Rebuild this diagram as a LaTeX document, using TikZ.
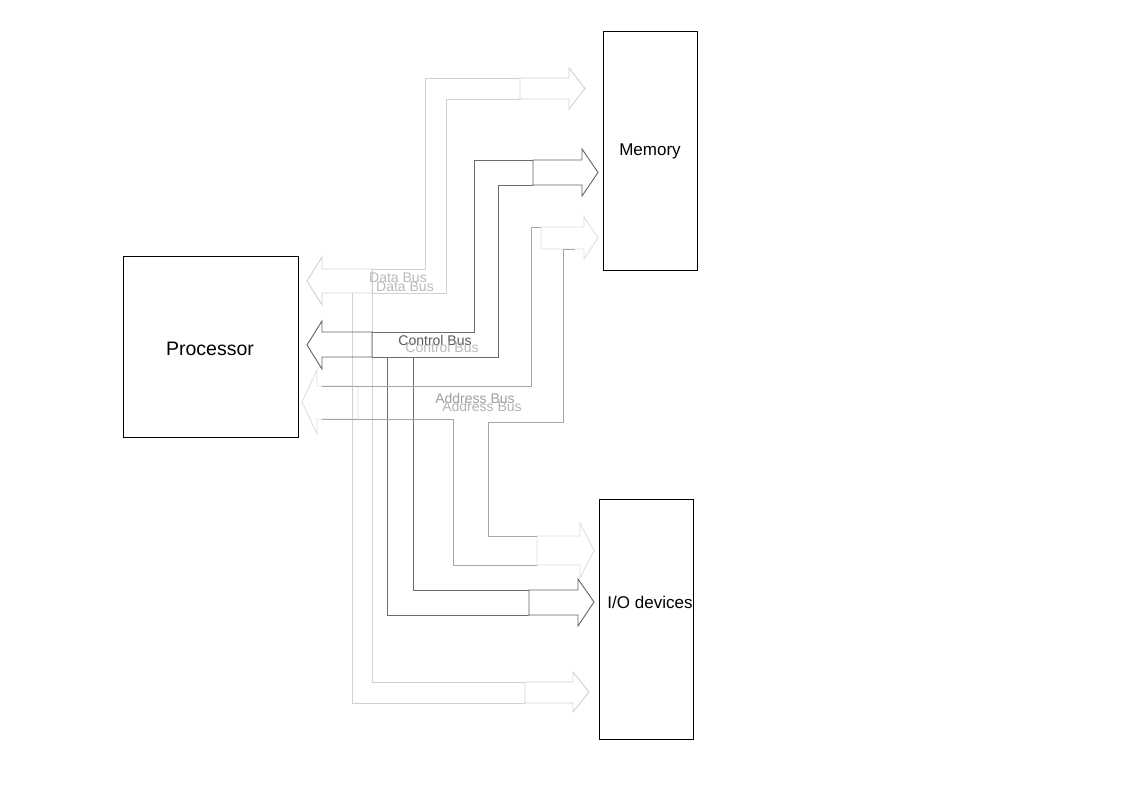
\documentclass[tikz,border=0pt]{standalone}
\usepackage{fontspec}
\setmainfont{Liberation Sans}
\begin{document}
\begin{tikzpicture}[x=1pt,y=-1pt,
  box/.style={draw=black,line width=0.9pt,inner sep=0pt},
  dataarrow/.style={draw=black!18,line width=0.9pt},
  dataline/.style={draw=black!18,line width=0.9pt},
  ctrlarrow/.style={draw=black!62,line width=0.9pt},
  ctrlline/.style={draw=black!58,line width=0.9pt},
  addrarrow/.style={draw=black!13,line width=0.9pt},
  addrline/.style={draw=black!35,line width=0.9pt},
  buslabel/.style={font=\fontsize{14}{16}\selectfont,inner sep=0pt},
  boxlabel/.style={font=\fontsize{17}{20}\selectfont,inner sep=0pt}]
\useasboundingbox (0,0) rectangle (1123,794);

% boxes
\node[box,minimum width=175pt,minimum height=181pt] (proc) at (210.5,346.5) {};
\node[boxlabel,font=\fontsize{19.5}{22}\selectfont] (proclabel) at (210,349) {Processor};
\node[box,minimum width=94pt,minimum height=239pt] (mem) at (650,150.5) {};
\node[boxlabel] (memlabel) at (650,151) {Memory};
\node[box,minimum width=94pt,minimum height=240pt] (io) at (646,619) {};
\node[boxlabel] (iolabel) at (650,602) {I/O devices};

% ---------- Data bus ----------
\draw[dataarrow] (372,269) coordinate (dLt) -- (322,269) -- (322,257) -- (307,281) -- (322,305) -- (322,293) -- (372,293) coordinate (dLb) -- cycle;
\draw[dataarrow] (520,78) coordinate (dMt) -- (569,78) -- (569,68) -- (585,88.5) -- (569,109) -- (569,99) -- (520,99) coordinate (dMb) -- cycle;
\draw[dataarrow] (525,682) coordinate (dIt) -- (573,682) -- (573,672) -- (589,692) -- (573,712) -- (573,703) -- (525,703) coordinate (dIb) -- cycle;
\draw[dataline] (dLt) -| (425,78) -- (dMt);
\draw[dataline] (dLb) -| (446,99) -- (dMb);
\draw[dataline] (dLt) -- (372,682) -- (dIt);
\coordinate (dLb2) at (352,293);
\draw[dataline] (dLb2) -- (352,703) -- (dIb);

% ---------- Control bus ----------
\draw[ctrlarrow] (372,332) coordinate (cLt) -- (322,332) -- (322,321) -- (307,345) -- (322,369) -- (322,357) -- (372,357) coordinate (cLb) -- cycle;
\draw[ctrlarrow] (533,160) coordinate (cMt) -- (582,160) -- (582,149) -- (598,172.5) -- (582,196) -- (582,185) -- (533,185) coordinate (cMb) -- cycle;
\draw[ctrlarrow] (529,590) coordinate (cIt) -- (578,590) -- (578,579) -- (594,602) -- (578,626) -- (578,615) -- (529,615) coordinate (cIb) -- cycle;
\draw[ctrlline] (cLt) -| (474,160) -- (cMt);
\draw[ctrlline] (cLb) -| (498,185) -- (cMb);
\draw[ctrlline] (cLb) -| (387,615) -- (cIb);
\coordinate (cLb2) at (413,357);
\draw[ctrlline] (cLb2) -- (413,590) -- (cIt);

% ---------- Address bus ----------
\draw[addrarrow] (358,386) coordinate (aLt) -- (317,386) -- (317,370) -- (302,402) -- (317,434) -- (317,419) -- (358,419) coordinate (aLb) -- cycle;
\draw[addrarrow] (541,227) coordinate (aMt) -- (584,227) -- (584,217) -- (598,238) -- (584,259) -- (584,249) -- (541,249) coordinate (aMb) -- cycle;
\draw[addrarrow] (537,536) coordinate (aIt) -- (580,536) -- (580,523) -- (594,550.5) -- (580,578) -- (580,565) -- (537,565) coordinate (aIb) -- cycle;
\coordinate (aLt2) at (322,386);
\coordinate (aLb2) at (322,419);
\coordinate (aMb2) at (575,249);
\draw[addrline] (aLt2) -| (531,227) -- (aMt);
\draw[addrline] (aMb2) -| (563,422) -| (488,536) -- (aIt);
\draw[addrline] (aLb2) -| (453,565) -- (aIb);

% ---------- labels ----------
\node[buslabel,text=black!27] (dl1) at (398,278) {Data Bus};
\node[buslabel,text=black!27] (dl2) at (405,287) {Data Bus};
\node[buslabel,text=black!65] (cl1) at (435,340) {Control Bus};
\node[buslabel,text=black!27] (cl2) at (442,347) {Control Bus};
\node[buslabel,text=black!38] (al1) at (475,398) {Address Bus};
\node[buslabel,text=black!30] (al2) at (482,406) {Address Bus};
\end{tikzpicture}
\end{document}
